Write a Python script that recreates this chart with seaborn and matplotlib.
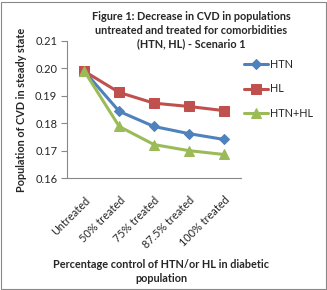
import numpy as np
import pandas as pd
import seaborn as sns
import matplotlib.pyplot as plt
from matplotlib.patches import Rectangle

# data
categories = ["Untreated", "50% treated", "75% treated", "87.5% treated", "100% treated"]
htn = [0.1989, 0.1843, 0.1788, 0.1762, 0.1741]
hl = [0.1989, 0.1912, 0.1873, 0.1861, 0.1846]
htn_hl = [0.1989, 0.1788, 0.1722, 0.1700, 0.1686]
series_names = ["HTN", "HL", "HTN+HL"]

sns.set_style('white')
plt.rcParams['font.family'] = ['Lato', 'DejaVu Sans']

fig = plt.figure(figsize=(3.27, 2.90), dpi=100)
ax = fig.add_axes([0.205, 0.386, 0.532, 0.473])

pos = np.arange(len(categories))
colors = ['#4F81BD', '#C0504D', '#9BBB59']
markers = ['D', 's', '^']
sizes = [5.5, 6.5, 7]
for name, vals, c, m, s in zip(series_names, [htn, hl, htn_hl], colors, markers, sizes):
    df = pd.DataFrame({'x': pos, 'y': vals})
    sns.lineplot(x='x', y='y', data=df, ax=ax, color=c, marker=m, markersize=s,
                 markeredgecolor=c, linewidth=2.2, label=name)

ax.set_xlim(-0.5, len(categories) - 0.5)
ax.set_ylim(0.16, 0.21)
yticks = [0.16, 0.17, 0.18, 0.19, 0.20, 0.21]
ax.set_yticks(yticks)
ax.set_yticklabels([f"{v:.2f}" for v in yticks], fontsize=8)
ax.set_xticks(pos)
ax.set_xticklabels(categories, rotation=45, ha='right', rotation_mode='anchor', fontsize=7.8)
ax.set_xticks(np.arange(-0.5, len(categories)), minor=True)
ax.tick_params(axis='x', which='major', length=0, pad=12)
ax.tick_params(axis='x', which='minor', length=4, direction='out', color='#888888')
ax.tick_params(axis='y', length=4, direction='out', color='#888888', left=True, pad=3)

for side in ['top', 'right']:
    ax.spines[side].set_visible(False)
for side in ['left', 'bottom']:
    ax.spines[side].set_color('#888888')
    ax.spines[side].set_linewidth(0.8)

ax.set_xlabel("Percentage control of HTN/or HL in diabetic\npopulation",
              fontsize=7.8, fontweight='bold', linespacing=1.35)
ax.set_ylabel("Population of CVD in steady state", fontsize=7.8, fontweight='bold', labelpad=6)
ax.xaxis.set_label_coords(0.54, -0.59)

fig.text(0.585, 0.962, "Figure 1: Decrease in CVD in populations\nuntreated and treated for comorbidities\n(HTN, HL) - Scenario 1",
         ha='center', va='top', fontsize=7.8, fontweight='bold', linespacing=1.3)

ax.legend(loc='center left', bbox_to_anchor=(1.0, 0.65), frameon=False, fontsize=7.8,
          handlelength=2.2, labelspacing=1.25, handletextpad=0.2, borderaxespad=0.1,
          borderpad=0.2)

fig.add_artist(Rectangle((0.002, 0.004), 0.994, 0.99, transform=fig.transFigure,
                         fill=False, edgecolor='#888888', linewidth=0.8))

fig.savefig("out.png", dpi=100)
